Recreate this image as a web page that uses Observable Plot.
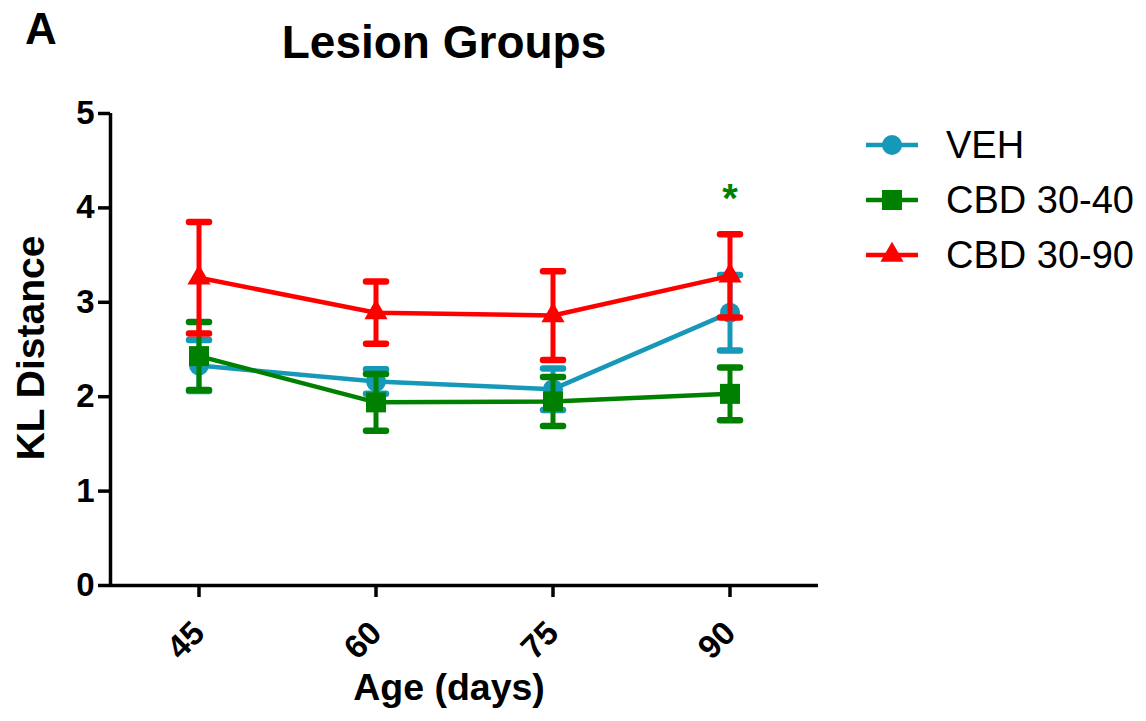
<!DOCTYPE html>
<html><head><meta charset="utf-8">
<script src="https://cdn.jsdelivr.net/npm/d3@7"></script>
<script src="https://cdn.jsdelivr.net/npm/@observablehq/plot@0.6"></script>
<style>
body{margin:0;background:#fff;font-family:"Liberation Sans",Arial,sans-serif;}
#wrap{position:relative;width:1146px;height:721px;overflow:hidden;background:#fff;}
#wrap > svg{position:absolute;left:0;top:0;}
.lbl{position:absolute;line-height:1;white-space:nowrap;color:#000;}
.leg{position:absolute;display:flex;align-items:center;height:40px;}
.leg span{font-size:38px;line-height:1;margin-left:24px;color:#000;}
</style></head><body><div id="wrap"></div>
<script>
// ---- data ----
const ages = [45, 60, 75, 90];
const groups = ["VEH", "CBD 30-40", "CBD 30-90"];
const vehMean = [2.33, 2.16, 2.08, 2.89];
const vehSem = [0.27, 0.13, 0.22, 0.40];
const cbd40Mean = [2.43, 1.94, 1.95, 2.03];
const cbd40Sem = [0.36, 0.30, 0.26, 0.28];
const cbd90Mean = [3.26, 2.89, 2.86, 3.28];
const cbd90Sem = [0.59, 0.33, 0.47, 0.44];
const yTicks = [0, 1, 2, 3, 4, 5];
const xTicks = [45, 60, 75, 90];
const annotations = [{age: 90, y: 3.96, text: "*", group: "CBD 30-40"}];

const colors = {"VEH": "#1699b8", "CBD 30-40": "#008000", "CBD 30-90": "#ff0000"};
const symbols = {"VEH": "circle", "CBD 30-40": "square", "CBD 30-90": "triangle"};
const markerR = {"VEH": 10, "CBD 30-40": 11.3, "CBD 30-90": 8.6};
const means = [vehMean, cbd40Mean, cbd90Mean];
const sems = [vehSem, cbd40Sem, cbd90Sem];

const rows = groups.flatMap((g, i) => ages.map((a, j) => ({group: g, age: a, mean: means[i][j], sem: sems[i][j]})));

const capSymbol = {draw(ctx, size) { const r = Math.sqrt(size / Math.PI); ctx.moveTo(-r, 0); ctx.lineTo(r, 0); }};

const marks = [];
for (const g of groups) {
  const d = rows.filter(r => r.group === g);
  const c = colors[g];
  marks.push(
    Plot.ruleX(d, {x: "age", y1: r => r.mean - r.sem, y2: r => r.mean + r.sem, stroke: c, strokeWidth: 5}),
    Plot.dot(d, {x: "age", y: r => r.mean + r.sem, symbol: capSymbol, r: 10, fill: "none", stroke: c, strokeWidth: 6.5, strokeLinecap: "round"}),
    Plot.dot(d, {x: "age", y: r => r.mean - r.sem, symbol: capSymbol, r: 10, fill: "none", stroke: c, strokeWidth: 6.5, strokeLinecap: "round"}),
    Plot.line(d, {x: "age", y: "mean", stroke: c, strokeWidth: 4.5}),
    Plot.dot(d, {x: "age", y: "mean", symbol: symbols[g], r: markerR[g], fill: c, stroke: "none"})
  );
}

const xDomain = [37.5, 97.5];
const chart = Plot.plot({
  width: 1146, height: 721,
  marginLeft: 110, marginTop: 113, marginBottom: 136, marginRight: 328,
  style: {fontFamily: "Liberation Sans, Arial, sans-serif", background: "transparent", color: "black", overflow: "visible"},
  x: {type: "linear", domain: xDomain},
  y: {domain: [0, 5]},
  marks: [
    Plot.axisY({ticks: yTicks, tickSize: 12, tickPadding: 4, fontSize: 33, fontWeight: "bold", strokeWidth: 3.5, label: null, tickFormat: d3.format("d")}),
    Plot.axisX({ticks: xTicks, tickSize: 12, tickPadding: 30, tickRotate: -45, fontSize: 33, fontWeight: "bold", strokeWidth: 3.5, label: null, tickFormat: d3.format("d")}),
    Plot.ruleX([xDomain[0]], {stroke: "black", strokeWidth: 3.5}),
    Plot.ruleY([0], {stroke: "black", strokeWidth: 3.5}),
    ...marks,
    Plot.text(annotations, {x: "age", y: "y", text: "text", fill: d => colors[d.group], fontSize: 40, fontWeight: "bold", lineAnchor: "bottom"})
  ]
});
const wrap = document.getElementById("wrap");
wrap.appendChild(chart);

function label(text, css) {
  const el = document.createElement("div");
  el.className = "lbl";
  el.textContent = text;
  Object.assign(el.style, css);
  wrap.appendChild(el);
}
label("A", {left: "25px", top: "7px", fontSize: "44px", fontWeight: "bold"});
label("Lesion Groups", {left: "444px", top: "19px", fontSize: "46px", fontWeight: "bold", transform: "translateX(-50%)"});
label("Age (days)", {left: "449px", top: "669px", fontSize: "37.5px", fontWeight: "bold", transform: "translateX(-50%)"});
label("KL Distance", {left: "30px", top: "348px", fontSize: "39px", fontWeight: "bold", transform: "translate(-50%,-50%) rotate(-90deg)"});

// legend
const legRowY = [145, 200, 255];
groups.forEach((g, i) => {
  const row = document.createElement("div");
  row.className = "leg";
  row.style.left = "862px";
  row.style.top = (legRowY[i] - 20) + "px";
  const svg = d3.create("svg").attr("width", 60).attr("height", 40);
  svg.append("line").attr("x1", 4).attr("x2", 56).attr("y1", 20).attr("y2", 20).attr("stroke", colors[g]).attr("stroke-width", 4.5);
  const symType = {circle: d3.symbolCircle, square: d3.symbolSquare, triangle: d3.symbolTriangle}[symbols[g]];
  svg.append("path").attr("transform", "translate(30,20)").attr("d", d3.symbol(symType, Math.PI * markerR[g] * markerR[g])()).attr("fill", colors[g]);
  row.appendChild(svg.node());
  const sp = document.createElement("span");
  sp.textContent = g;
  row.appendChild(sp);
  wrap.appendChild(row);
});
</script></body></html>
